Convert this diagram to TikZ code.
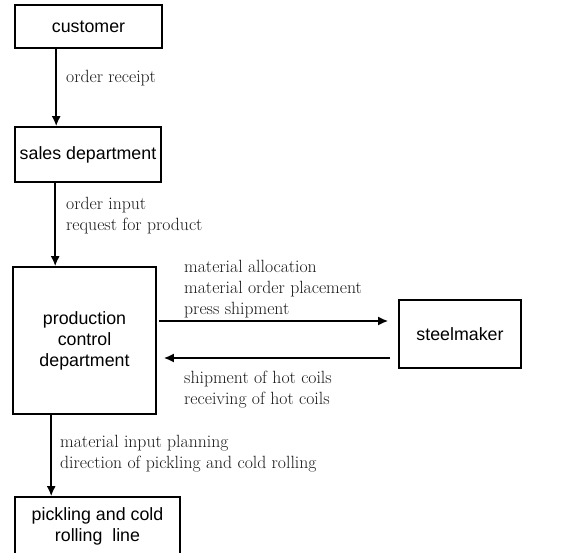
\documentclass[tikz,border=0pt]{standalone}
\usepackage{fontspec}
\newfontfamily\boxfont{Liberation Sans}
\usetikzlibrary{arrows.meta}

\tikzset{
  unit/.style={draw, line width=1.6pt, inner sep=0pt, align=center,
    font=\boxfont\fontsize{17.8}{21}\selectfont},
  note/.style={anchor=west, inner sep=0pt, align=left, text=black!90,
    font=\fontsize{17.7}{21}\selectfont},
  flow/.style={-{Latex[length=10pt,width=9pt]}, line width=1.8pt}
}

\begin{document}
\begin{tikzpicture}[x=1pt,y=-1pt]
\useasboundingbox (0,0) rectangle (575,553);
\node[unit, minimum width=147pt, minimum height=43pt] (customer) at (88.5,26.5) {customer};
\node[unit, minimum width=146pt, minimum height=55pt] (sales) at (88,154.5) {sales department};
\node[unit, minimum width=143pt, minimum height=147pt] (prod) at (84.5,340.5) {production\\control\\department};
\node[unit, minimum width=122pt, minimum height=68pt] (steel) at (460,334) {steelmaker};
\node[unit, minimum width=165pt, minimum height=59pt] (pickling) at (97.5,526.5) {pickling and cold\\rolling\ \ line};
\node[note] (receipt) at (66,78) {order receipt};
\node[note] (input) at (66,215.5) {order input\\request for product};
\node[note] (alloc) at (184,289) {material allocation\\material order placement\\press shipment};
\node[note] (coils) at (184,389.5) {shipment of hot coils\\receiving of hot coils};
\node[note] (planning) at (60,453.5) {material input planning\\direction of pickling and cold rolling};
\draw[flow] ([xshift=42pt]customer.south west) -- ([xshift=42pt]customer.south west |- sales.north);
\draw[flow] ([xshift=41pt]sales.south west) -- ([xshift=41pt]sales.south west |- prod.north);
\draw[flow] ([xshift=39pt]prod.south west) -- ([xshift=39pt]prod.south west |- pickling.north);
\draw[flow, shorten <=2pt, shorten >=10pt] ([yshift=19.5pt]prod.east) -- ([yshift=19.5pt]prod.east -| steel.west);
\draw[flow, shorten <=8pt, shorten >=7pt] ([yshift=-17.5pt]prod.east -| steel.west) -- ([yshift=-17.5pt]prod.east);
\end{tikzpicture}
\end{document}
